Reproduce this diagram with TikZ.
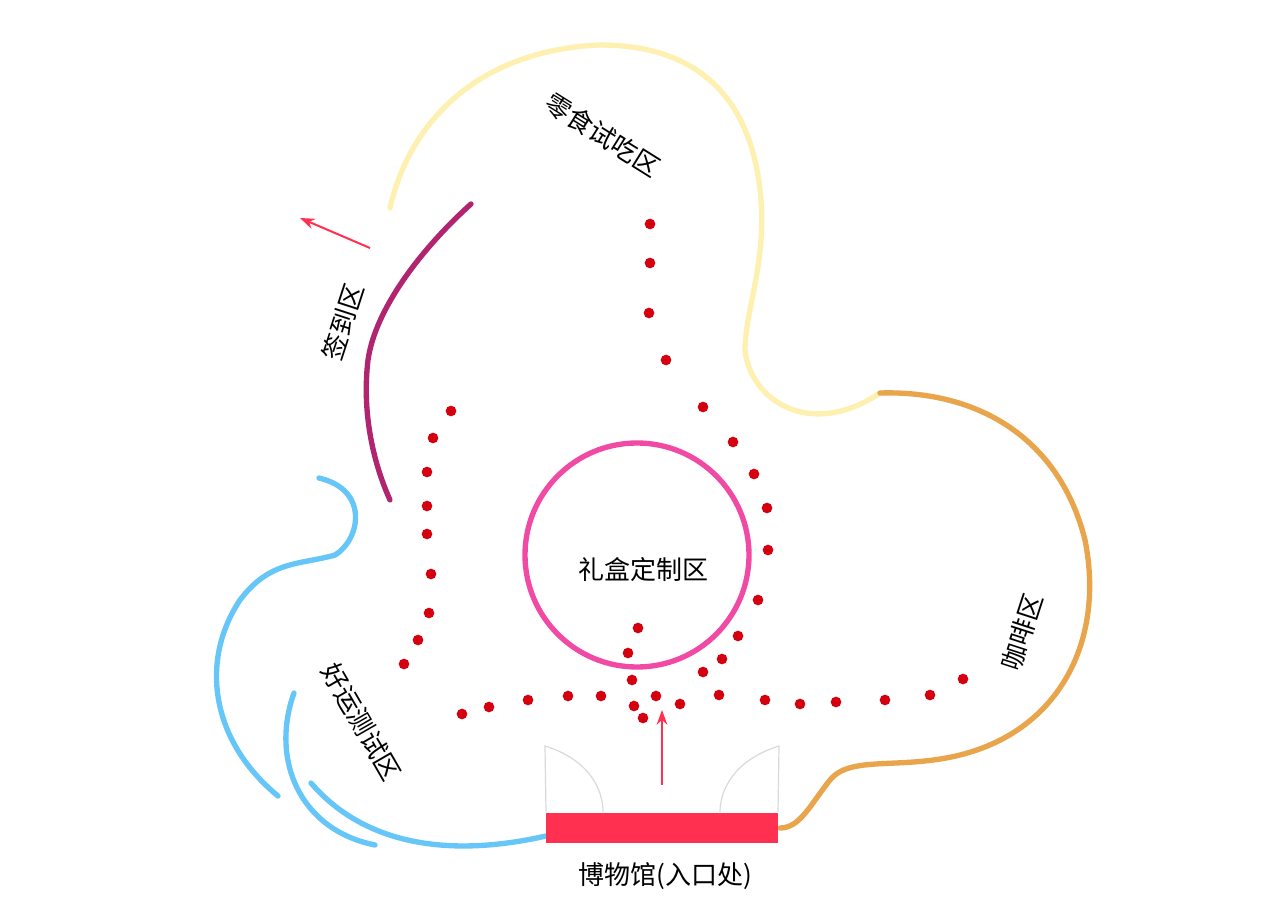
\documentclass[tikz,border=0pt]{standalone}
\usepackage{fontspec}
\setmainfont{Noto Sans CJK SC}
\usetikzlibrary{arrows.meta}
\definecolor{yel}{HTML}{FDF0B0}
\definecolor{ora}{HTML}{E9A54C}
\definecolor{pur}{HTML}{B02470}
\definecolor{blu}{HTML}{66C6F7}
\definecolor{pnk}{HTML}{F04AA4}
\definecolor{dotc}{HTML}{D40010}
\definecolor{rd}{HTML}{FF3050}
\tikzset{wall/.style={line width=4pt,line cap=round},
 dt/.style={fill=dotc,draw=none,circle,minimum size=8pt,inner sep=0pt},
 lbl/.style={font=\fontsize{19.5}{20}\selectfont,inner sep=0pt},
 arr/.style={rd,line width=1.5pt,-{Stealth[length=11pt,width=8pt]}}}
\begin{document}
\begin{tikzpicture}[x=0.75pt,y=-0.75pt]
\useasboundingbox (0,0) rectangle (1280,905);
\draw[wall,yel] (390,208) .. controls (410,120) and (480,50) .. (600,45) .. controls (700,45) and (750,100) .. (760,190) .. controls (768,260) and (745,310) .. (745,350) .. controls (750,400) and (810,440) .. (880,393);
\draw[wall,ora] (880,393) .. controls (980,390) and (1060,440) .. (1085,540) .. controls (1105,640) and (1060,730) .. (960,755) .. controls (900,770) and (850,755) .. (830,780) .. controls (810,805) and (800,828) .. (780,828);
\draw[wall,pur] (471,204) .. controls (420,250) and (375,310) .. (368,360) .. controls (362,410) and (372,460) .. (390,500);
\draw[wall,blu] (319,478) .. controls (370,490) and (360,540) .. (335,555) .. controls (300,565) and (270,560) .. (240,600) .. controls (200,660) and (210,740) .. (278,796);
\draw[wall,blu] (294,693) .. controls (270,760) and (300,830) .. (375,845);
\draw[wall,blu] (311,783) .. controls (360,840) and (440,860) .. (546,836);
\draw[line width=4pt,pnk] (637,555) circle (112);
\node[draw=none,fill=rd,minimum width=174pt,minimum height=22pt,inner sep=0pt] (door) at (662,828) {};
\draw[gray!30,line width=0.9pt] (546,812) -- (545,746) .. controls (590,760) and (603,790) .. (603,812);
\draw[gray!30,line width=0.9pt] (778,812) -- (779,746) .. controls (734,760) and (720,790) .. (720,812);
\coordinate (a1) at (370,248); \coordinate (a2) at (300,218);
\draw[arr] (a1) -- (a2);
\coordinate (b1) at (662,785); \coordinate (b2) at (662,710);
\draw[arr] (b1) -- (b2);
\foreach \p [count=\i] in {(650,224),(650,263),(649,313),(666,360),(703,407),(733,442),(754,474),(767,508),(768,550),(758,600),(738,636),(722,659),(703,672),
(451,411),(433,438),(427,472),(427,506),(427,534),(431,574),(429,613),(418,640),(404,664),
(462,714),(489,707),(528,700),(568,696),(601,696),(632,680),(656,696),(680,704),(719,695),(765,700),(800,704),(836,702),(885,700),(930,695),(963,679),
(638,628),(628,653),(634,706),(643,718)}
  \node[dt] (d\i) at \p {};
\node[lbl,rotate=-32] (t1) at (603,135) {零食试吃区};
\node[lbl,rotate=72] (t2) at (343,322) {签到区};
\node[lbl,rotate=-60] (t3) at (362,722) {好运测试区};
\node[lbl,rotate=72] (t4) at (1022,632) {咖啡区};
\node[lbl] (t5) at (643,570) {礼盒定制区};
\node[lbl] (t6) at (665,876) {博物馆(入口处)};
\end{tikzpicture}
\end{document}
